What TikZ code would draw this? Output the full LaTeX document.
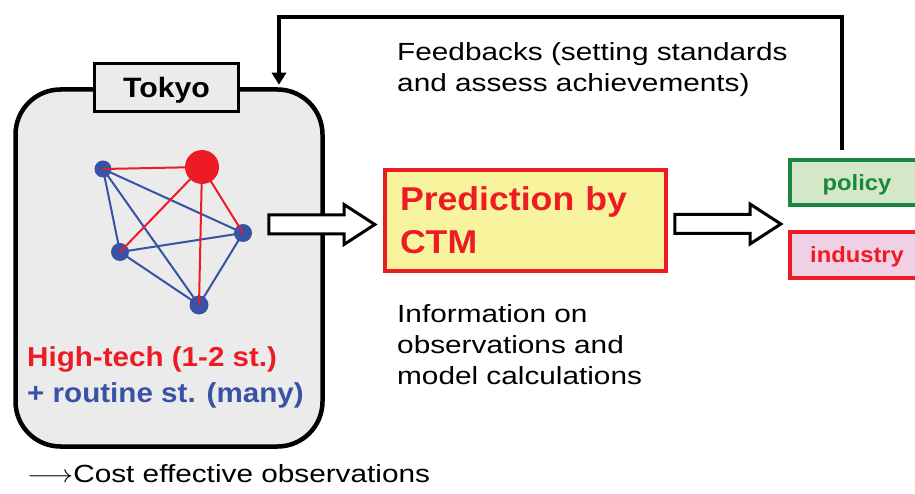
\documentclass[tikz,border=0pt]{standalone}
\usepackage{fontspec}
\setmainfont{Liberation Sans}[FakeStretch=1.08]
\newfontfamily\plainfont{Liberation Sans}[FakeStretch=1.2]
\usetikzlibrary{shapes.arrows, positioning, calc, arrows.meta}

\definecolor{ctmred}{HTML}{ED1C24}
\definecolor{stblue}{HTML}{3953A4}
\definecolor{boxgray}{HTML}{EBEBEB}
\definecolor{ctmyellow}{HTML}{F7F49D}
\definecolor{polgreen}{HTML}{1A8740}
\definecolor{polfill}{HTML}{D4E8C8}
\definecolor{indfill}{HTML}{F0D0E4}

\tikzset{
  plaintext/.style={anchor=base west, inner sep=0pt, align=left,
    font=\plainfont\fontsize{24.8}{31}\selectfont},
  stlabel/.style={anchor=base west, inner sep=0pt,
    font=\bfseries\fontsize{27.4}{36}\selectfont},
  fatarrow/.style={single arrow, draw=black, fill=white, line width=3pt,
    inner sep=8pt, single arrow head extend=10.5pt,
    single arrow tip angle=66, minimum height=106pt},
  station/.style={circle, fill=stblue, inner sep=0pt},
  hitech/.style={circle, fill=ctmred, inner sep=0pt, minimum size=34pt},
  blueline/.style={stblue, line width=2pt},
  redline/.style={ctmred, line width=2pt},
  userbox/.style={rectangle, line width=4pt, minimum width=134pt,
    minimum height=45pt, text depth=0pt,
    font=\bfseries\fontsize{22}{26}\selectfont},
}

\begin{document}
\begin{tikzpicture}[x=1pt, y=-1pt]
  \useasboundingbox (0,0) rectangle (915,494);

  % Tokyo network
  \node[draw, line width=4.5pt, fill=boxgray, rounded corners=45pt,
    minimum width=307pt, minimum height=357pt] (tokyo) at (169,268) {};
  \node[draw, line width=3pt, fill=boxgray, minimum width=144pt,
    minimum height=48pt, text depth=0pt,
    font=\bfseries\fontsize{28}{30}\selectfont] (tokyolabel) at (166.5,87.5) {Tokyo};

  \node[station, minimum size=17pt] (sa) at (103,169) {};
  \node[station, minimum size=18pt] (sb) at (120,252) {};
  \node[station, minimum size=18pt] (sc) at (243,233) {};
  \node[station, minimum size=19pt] (sd) at (199,305) {};
  \node[hitech] (ht) at (202,167) {};
  \foreach \s/\t in {sa/sb, sa/sc, sa/sd, sb/sc, sb/sd, sc/sd}
    \draw[blueline] (\s.center) -- (\t.center);
  \foreach \s in {sa, sb, sc, sd}
    \draw[redline] (ht.center) -- (\s.center);

  \node[stlabel, text=ctmred] (hightech) at (27,366) {High-tech (1-2 st.)};
  \node[stlabel, text=stblue] (routine) at (27,402) {+ routine st. (many)};

  % CTM and users
  \node[draw=ctmred, line width=3.5pt, fill=ctmyellow, minimum width=281pt,
    minimum height=101pt, text width=251pt, inner xsep=15pt, align=left,
    text=ctmred, font=\bfseries\fontsize{33}{43}\selectfont]
    (ctm) at (525.5,220.5) {Prediction by\\CTM};

  \node[fatarrow] (toctm) at (314.5,224.5) {};
  \node[fatarrow] (touser) at (720.5,224) {};

  \node[userbox, draw=polgreen, fill=polfill, text=polgreen] (policy) at (857,182.75) {policy};
  \node[userbox, draw=ctmred, fill=indfill, text=ctmred] (industry) at (857,255) {industry};

  % Feedback loop
  \coordinate (fbturn) at (279,17);
  \draw[line width=4pt, -{Triangle[length=12pt,width=14pt]},
    shorten <=8pt, shorten >=2.5pt]
    ([xshift=-15pt]policy.north) |- (fbturn) -- (fbturn |- tokyo.north);

  \node[plaintext] (fbtext) at (397,92) {Feedbacks (setting standards\\and assess achievements)};
  \node[plaintext] (infotext) at (397,384) {Information on\\observations and\\model calculations};
  \node[plaintext] (cost) at (27,482) {\scalebox{1.15}[1]{$\longrightarrow$}Cost effective observations};
\end{tikzpicture}
\end{document}
